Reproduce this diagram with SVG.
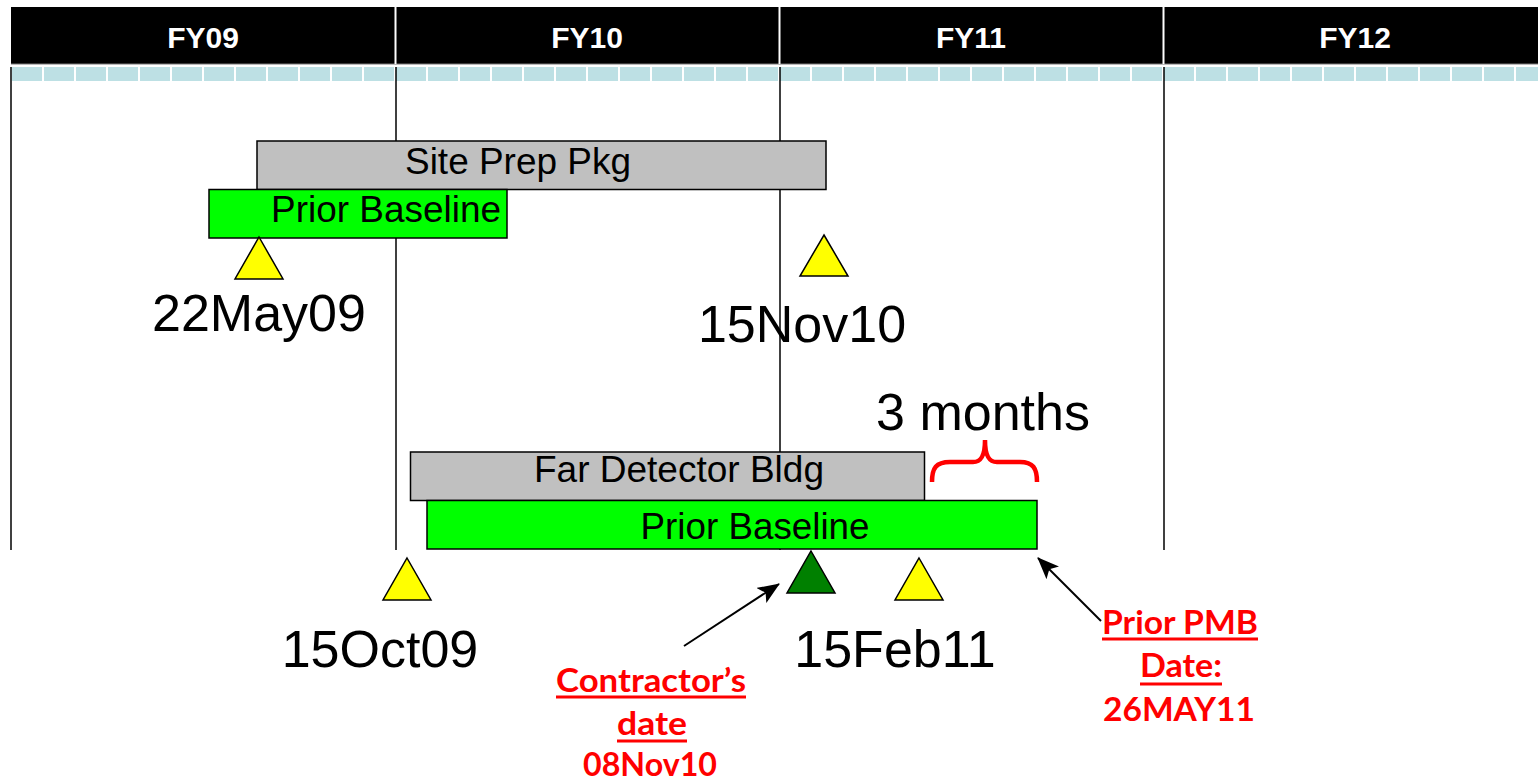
<svg xmlns="http://www.w3.org/2000/svg" width="1538" height="783" viewBox="0 0 1538 783">
<style>
.hdr{font-family:"Liberation Sans",Arial,sans-serif;font-weight:bold;font-size:30px;fill:#fff;text-anchor:middle}
.bar{stroke:#000;stroke-width:1.5}
.gray{fill:#C0C0C0}
.green{fill:#00FF00}
.lbl{font-family:"Liberation Sans",Arial,sans-serif;font-size:36px;fill:#000;text-anchor:middle}
.date{font-family:"Liberation Sans",Arial,sans-serif;font-size:52px;fill:#000;text-anchor:middle}
.tri{fill:#FFFF00;stroke:#000;stroke-width:1.5;stroke-linejoin:miter}
.red{font-family:Lato,"Open Sans",sans-serif;font-weight:bold;font-size:33px;fill:#FF0000;text-anchor:middle}
.vl{stroke:#000;stroke-width:1.5}
.conn{stroke:#000;stroke-width:2;fill:none;marker-end:url(#ah)}
</style>
<defs>
<pattern id="months" x="11" y="67" width="32" height="14" patternUnits="userSpaceOnUse">
<rect x="1" y="0" width="30" height="14" fill="#BDE0E4"/>
</pattern>
<marker id="ah" markerWidth="24" markerHeight="18" refX="21" refY="9" orient="auto" markerUnits="userSpaceOnUse">
<path d="M0,0 L22,9 L0,18 L5,9 z" fill="#000"/>
</marker>
</defs>
<rect width="1538" height="783" fill="#fff"/>
<g id="header">
<rect x="11" y="7" width="1527" height="57" fill="#000"/>
<line x1="11" y1="64" x2="1538" y2="64" stroke="#777" stroke-width="1"/>
<line x1="395.5" y1="7" x2="395.5" y2="64" stroke="#fff" stroke-width="2"/>
<line x1="779.5" y1="7" x2="779.5" y2="64" stroke="#fff" stroke-width="2"/>
<line x1="1163.5" y1="7" x2="1163.5" y2="64" stroke="#fff" stroke-width="2"/>
<text class="hdr" x="203" y="48">FY09</text>
<text class="hdr" x="587" y="48">FY10</text>
<text class="hdr" x="971" y="48">FY11</text>
<text class="hdr" x="1355" y="48">FY12</text>
<rect x="11" y="67" width="1527" height="14" fill="url(#months)"/>
</g>
<g id="gridlines">
<line class="vl" x1="11" y1="67" x2="11" y2="550"/>
<line class="vl" x1="396" y1="67" x2="396" y2="550"/>
<line class="vl" x1="780" y1="67" x2="780" y2="550"/>
<line class="vl" x1="1164" y1="67" x2="1164" y2="550"/>
</g>
<g id="site-prep">
<rect class="bar gray" x="257" y="141" width="569" height="48.5"/>
<text class="lbl" x="518" y="174" textLength="226" lengthAdjust="spacingAndGlyphs">Site Prep Pkg</text>
</g>
<g id="site-prep-baseline">
<rect class="bar green" x="209" y="189.5" width="298" height="48.5"/>
<text class="lbl" x="386" y="222" textLength="230" lengthAdjust="spacingAndGlyphs">Prior Baseline</text>
</g>
<g id="ms-22May09">
<polygon class="tri" points="259,237 283,279 235,279"/>
<text class="date" x="259" y="331">22May09</text>
</g>
<g id="ms-15Nov10">
<polygon class="tri" points="824,235 848,276 800,276"/>
<text class="date" x="802" y="342">15Nov10</text>
</g>
<g id="far-detector">
<rect class="bar gray" x="410.5" y="452" width="514" height="48.5"/>
<text class="lbl" x="679" y="482" textLength="290" lengthAdjust="spacingAndGlyphs">Far Detector Bldg</text>
</g>
<g id="far-detector-baseline">
<rect class="bar green" x="427" y="500.5" width="610" height="48.5"/>
<text class="lbl" x="755" y="539" textLength="229" lengthAdjust="spacingAndGlyphs">Prior Baseline</text>
</g>
<g id="gap">
<path d="M932,482 C932,468 936,462 950,462 L973,462 C981,462 985,456 985,440 C985,456 989,462 997,462 L1020,462 C1033,462 1037,468 1037,482" fill="none" stroke="#FF0000" stroke-width="4.5" stroke-linecap="butt"/>
<text class="date" x="983" y="430">3 months</text>
</g>
<g id="ms-15Oct09">
<polygon class="tri" points="407,558 431,600 383,600"/>
<text class="date" x="380" y="667">15Oct09</text>
</g>
<g id="ms-contractor">
<polygon class="tri" style="fill:#008000" points="811,551 835,593 787,593"/>
</g>
<g id="ms-15Feb11">
<polygon class="tri" points="919,558 943,600 895,600"/>
<text class="date" x="895" y="667">15Feb11</text>
</g>
<g id="connectors">
<line class="conn" x1="684" y1="646" x2="779" y2="584"/>
<line class="conn" x1="1101" y1="621" x2="1038" y2="558"/>
</g>
<g id="note-contractor">
<text class="red" x="651" y="692" textLength="190" lengthAdjust="spacingAndGlyphs">Contractor’s</text>
<rect x="556" y="695.5" width="190" height="3" fill="#FF0000"/>
<text class="red" x="652" y="735" textLength="70" lengthAdjust="spacingAndGlyphs">date</text>
<rect x="617" y="739.5" width="70" height="3" fill="#FF0000"/>
<text class="red" x="650" y="775.5" textLength="134" lengthAdjust="spacingAndGlyphs">08Nov10</text>
</g>
<g id="note-pmb">
<text class="red" x="1180" y="634" textLength="156" lengthAdjust="spacingAndGlyphs">Prior PMB</text>
<rect x="1102" y="637.5" width="156" height="3" fill="#FF0000"/>
<text class="red" x="1181" y="677" textLength="82" lengthAdjust="spacingAndGlyphs">Date:</text>
<rect x="1140" y="682.5" width="82" height="3" fill="#FF0000"/>
<text class="red" x="1179" y="721" textLength="152" lengthAdjust="spacingAndGlyphs">26MAY11</text>
</g>
</svg>
